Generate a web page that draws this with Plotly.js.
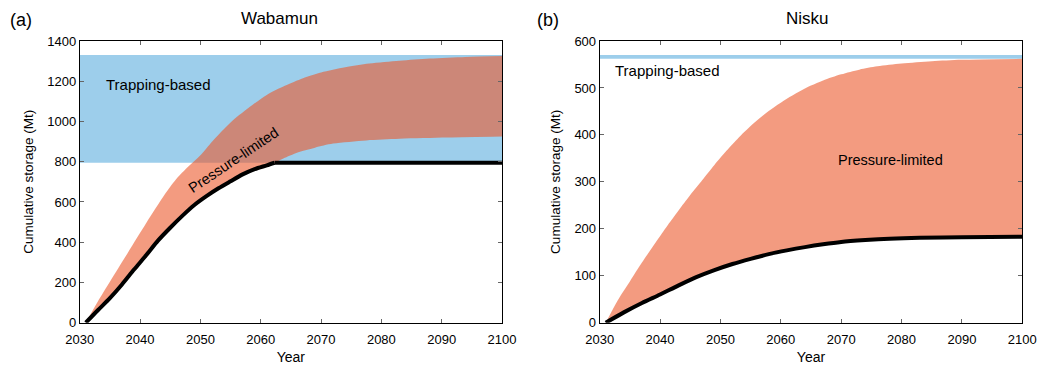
<!DOCTYPE html>
<html>
<head>
<meta charset="utf-8">
<script src="https://cdn.plot.ly/plotly-3.0.1.min.js"></script>
<style>html,body{margin:0;padding:0;background:#fff;}#chart{width:1037px;height:367px;}</style>
</head>
<body>
<div id="chart"></div>
<script>
// ---- Panel (a) Wabamun ----
const wabYearsUpper = [2031, 2033, 2035, 2038, 2041, 2044, 2046, 2048, 2050, 2052, 2055, 2058, 2061, 2064, 2067, 2070, 2074, 2078, 2083, 2088, 2094, 2100];
const wabUpper      = [0, 105, 203, 349, 494, 633, 714, 776, 832, 902, 995, 1068, 1132, 1177, 1215, 1243, 1269, 1288, 1302, 1313, 1321, 1325];

const wabYearsLimit = [2031, 2033, 2035, 2037, 2039, 2041, 2043, 2045, 2047, 2049, 2051, 2053, 2055, 2057, 2059, 2061, 2062.3, 2100];
const wabLimit      = [0, 62, 122, 190, 264, 335, 409, 472, 531, 585, 629, 668, 703, 737, 763, 782, 795, 795];

const wabYearsLower = [2031, 2033, 2035, 2037, 2039, 2041, 2043, 2045, 2047, 2049, 2051, 2053, 2055, 2057, 2059, 2061, 2062.3, 2064, 2066.5, 2069, 2072, 2077.5, 2083, 2091, 2100];
const wabLower      = [0, 62, 122, 190, 264, 335, 409, 472, 531, 585, 629, 668, 703, 737, 763, 782, 795, 820, 850, 870, 890, 906, 914, 920, 925];

const wabTrapping = [795, 1330];   // trapping-based range (Mt)

// ---- Panel (b) Nisku ----
const nisYearsUpper = [2031, 2033, 2035, 2037, 2039, 2041, 2043, 2045, 2047, 2049, 2051, 2053, 2055, 2057, 2059, 2061, 2063, 2065, 2067, 2070, 2073, 2076, 2080, 2085, 2090, 2100];
const nisUpper      = [0, 48, 88, 128, 166, 203, 238, 272, 304, 336, 366, 394, 419, 441, 460, 477, 492, 505, 516, 529, 539, 546, 552, 557, 560, 562];

const nisYearsLimit = [2031, 2034, 2037, 2040, 2043, 2046, 2049, 2052, 2055, 2058, 2061, 2064, 2067, 2070, 2074, 2078, 2083, 2090, 2100];
const nisLimit      = [0, 22, 42, 60, 79, 97, 112, 125, 136, 146, 154, 161, 167, 172, 176, 179, 181, 182, 183];

const nisTrapping = [562, 570];

const yearRange = [2030, 2100];
const xTickVals = [2030, 2040, 2050, 2060, 2070, 2080, 2090, 2100];

const BLUE = 'rgb(157,206,235)';
const RED = 'rgba(235,88,44,0.6)';
const FONT = 'Liberation Sans, Arial, Helvetica, sans-serif';

function rect(range, lohi) {
  return {x: [range[0], range[1], range[1], range[0]], y: [lohi[0], lohi[0], lohi[1], lohi[1]]};
}
// split the Wabamun limit line into its rising part and its flat plateau
let kink = wabLimit.indexOf(Math.max(...wabLimit));
const wabRiseX = wabYearsLimit.slice(0, kink + 1), wabRiseY = wabLimit.slice(0, kink + 1);
const wabFlatX = wabYearsLimit.slice(kink), wabFlatY = wabLimit.slice(kink);

const wabTrap = rect(yearRange, wabTrapping);
const nisTrap = rect(yearRange, nisTrapping);
const SP = {shape: 'spline', smoothing: 0.8};

const traces = [
  {x: wabTrap.x, y: wabTrap.y, fill: 'toself', fillcolor: BLUE, line: {width: 0}, mode: 'lines', xaxis: 'x', yaxis: 'y', hoverinfo: 'skip', name: 'Trapping-based'},
  {x: wabYearsLower, y: wabLower, mode: 'lines', line: Object.assign({width: 0, color: 'rgba(0,0,0,0)'}, SP), xaxis: 'x', yaxis: 'y', hoverinfo: 'skip', name: 'lower'},
  {x: wabYearsUpper, y: wabUpper, mode: 'lines', fill: 'tonexty', fillcolor: RED, line: Object.assign({width: 0, color: 'rgba(0,0,0,0)'}, SP), xaxis: 'x', yaxis: 'y', hoverinfo: 'skip', name: 'Pressure-limited'},
  {x: wabRiseX, y: wabRiseY, mode: 'lines', line: Object.assign({color: '#000', width: 4}, SP), xaxis: 'x', yaxis: 'y', name: 'Limit'},
  {x: wabFlatX, y: wabFlatY, mode: 'lines', line: {color: '#000', width: 4}, xaxis: 'x', yaxis: 'y', name: 'Limit'},
  {x: nisTrap.x, y: nisTrap.y, fill: 'toself', fillcolor: BLUE, line: {width: 0}, mode: 'lines', xaxis: 'x2', yaxis: 'y2', hoverinfo: 'skip', name: 'Trapping-based'},
  {x: nisYearsLimit, y: nisLimit, mode: 'lines', line: Object.assign({width: 0, color: 'rgba(0,0,0,0)'}, SP), xaxis: 'x2', yaxis: 'y2', hoverinfo: 'skip', name: 'lower'},
  {x: nisYearsUpper, y: nisUpper, mode: 'lines', fill: 'tonexty', fillcolor: RED, line: Object.assign({width: 0, color: 'rgba(0,0,0,0)'}, SP), xaxis: 'x2', yaxis: 'y2', hoverinfo: 'skip', name: 'Pressure-limited'},
  {x: nisYearsLimit, y: nisLimit, mode: 'lines', line: Object.assign({color: '#000', width: 4}, SP), xaxis: 'x2', yaxis: 'y2', name: 'Limit'}
];

const xCommon = {
  range: yearRange, tickvals: xTickVals, ticks: 'inside', ticklen: 4, tickcolor: '#666',
  showline: true, linecolor: '#000', linewidth: 1, mirror: 'ticks', showgrid: false, zeroline: false,
  tickfont: {size: 13, color: '#000', family: FONT}, ticklabelstandoff: 5,
  title: {text: 'Year', font: {size: 14, color: '#000', family: FONT}, standoff: 5}
};
const yCommon = {
  ticks: 'inside', ticklen: 4, tickcolor: '#666',
  showline: true, linecolor: '#000', linewidth: 1, mirror: 'ticks', showgrid: false, zeroline: false,
  tickfont: {size: 13, color: '#000', family: FONT},
  title: {text: 'Cumulative storage (Mt)', font: {size: 13.5, color: '#000', family: FONT}, standoff: 10}
};

const yDom = [0.1207, 0.8883];
const layout = {
  width: 1037, height: 367,
  margin: {l: 0, r: 0, t: 0, b: 0},
  paper_bgcolor: '#fff', plot_bgcolor: '#fff',
  showlegend: false,
  font: {family: FONT, color: '#000'},
  xaxis: Object.assign({}, xCommon, {domain: [0.0769, 0.4841], anchor: 'y'}),
  yaxis: Object.assign({}, yCommon, {domain: yDom, range: [0, 1400], dtick: 200, tick0: 0, anchor: 'x'}),
  xaxis2: Object.assign({}, xCommon, {domain: [0.5783, 0.9858], anchor: 'y2'}),
  yaxis2: Object.assign({}, yCommon, {domain: yDom, range: [0, 600], dtick: 100, tick0: 0, anchor: 'x2'}),
  annotations: [
    {text: '(a)', xref: 'paper', yref: 'paper', x: 20.5/1037, y: 1 - 20/367, showarrow: false, font: {size: 18}, xanchor: 'center', yanchor: 'middle'},
    {text: '(b)', xref: 'paper', yref: 'paper', x: 548/1037, y: 1 - 20/367, showarrow: false, font: {size: 18}, xanchor: 'center', yanchor: 'middle'},
    {text: 'Wabamun', xref: 'paper', yref: 'paper', x: 279/1037, y: 1 - 18/367, showarrow: false, font: {size: 17}, xanchor: 'center', yanchor: 'middle'},
    {text: 'Nisku', xref: 'paper', yref: 'paper', x: 807.5/1037, y: 1 - 18/367, showarrow: false, font: {size: 17}, xanchor: 'center', yanchor: 'middle'},
    {text: 'Trapping-based', xref: 'x', yref: 'y', x: 2043.0, y: 1186, showarrow: false, font: {size: 15}},
    {text: 'Pressure-limited', xref: 'x', yref: 'y', x: 2055.5, y: 809, showarrow: false, font: {size: 14.5}, textangle: -34},
    {text: 'Trapping-based', xref: 'x2', yref: 'y2', x: 2041.3, y: 537, showarrow: false, font: {size: 15}},
    {text: 'Pressure-limited', xref: 'x2', yref: 'y2', x: 2078.1, y: 346, showarrow: false, font: {size: 14.5}}
  ]
};

Plotly.newPlot('chart', traces, layout, {displayModeBar: false, staticPlot: true});
</script>
</body>
</html>
